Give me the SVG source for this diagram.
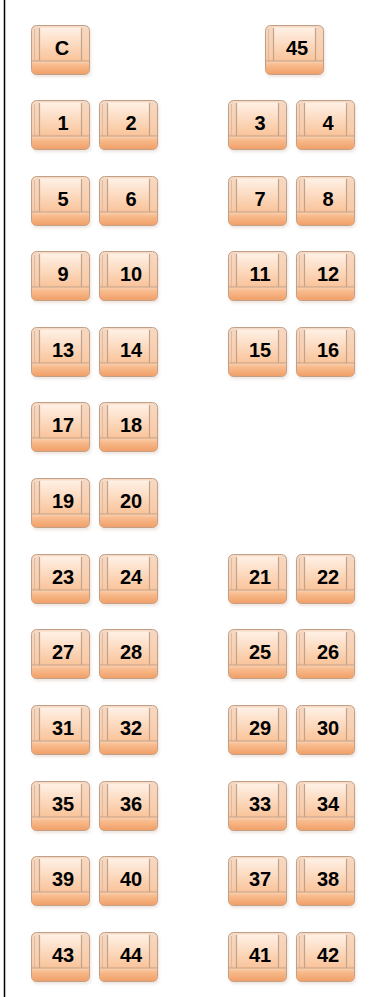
<svg xmlns="http://www.w3.org/2000/svg" xmlns:xlink="http://www.w3.org/1999/xlink" width="378" height="997" viewBox="0 0 378 997">
<style>
.lbl{font-family:"Liberation Sans",Arial,sans-serif;font-weight:bold;font-size:20px;fill:#000;text-anchor:middle}
</style>
<defs>
<linearGradient id="gOuter" x1="0" y1="0" x2="0" y2="1">
<stop offset="0" stop-color="#f5d9c4"/>
<stop offset="0.65" stop-color="#f9cba8"/>
<stop offset="1" stop-color="#f2a673"/>
</linearGradient>
<linearGradient id="gBack" x1="0" y1="0" x2="0" y2="1">
<stop offset="0" stop-color="#fff1e6"/>
<stop offset="1" stop-color="#f9c399"/>
</linearGradient>
<linearGradient id="gCush" x1="0" y1="0" x2="0" y2="1">
<stop offset="0" stop-color="#fbd3b4"/>
<stop offset="0.3" stop-color="#f8bb8d"/>
<stop offset="1" stop-color="#f0a069"/>
</linearGradient>
<filter id="sh" x="-20%" y="-20%" width="140%" height="140%">
<feGaussianBlur stdDeviation="1.5"/>
</filter>
<symbol id="seat" viewBox="0 0 59 50" overflow="visible">
<rect x="1" y="2" width="59" height="50" rx="5" fill="#d8c8bc" opacity="0.5" filter="url(#sh)"/>
<rect x="0.5" y="0.5" width="58" height="49" rx="5" fill="url(#gOuter)" stroke="#c2a088" stroke-width="1"/>
<path d="M3.5 4 L3.5 36" stroke="#d8bca6" stroke-width="1" fill="none"/>
<rect x="8.5" y="2.5" width="42" height="33.5" fill="url(#gBack)"/>
<path d="M8.5 3 L8.5 36 M50.5 3 L50.5 36" stroke="#c4a28a" stroke-width="1.2" fill="none"/>
<path d="M1 36 L58 36 L58 45 Q58 49 54 49 L5 49 Q1 49 1 45 Z" fill="url(#gCush)"/>
<line x1="1" y1="36" x2="58" y2="36" stroke="#c4a28a" stroke-width="1"/>
</symbol>
</defs>
<line x1="4.5" y1="0" x2="4.5" y2="997" stroke="#000" stroke-width="1.5"/>
<g id="seats">
<g id="seat-C"><use xlink:href="#seat" x="31" y="25" width="59" height="50"/><text class="lbl" x="62" y="55">C</text></g>
<g id="seat-45"><use xlink:href="#seat" x="265" y="25" width="59" height="50"/><text class="lbl" x="297" y="55">45</text></g>

<g id="seat-1"><use xlink:href="#seat" x="31" y="100" width="59" height="50"/><text class="lbl" x="63" y="130">1</text></g>
<g id="seat-2"><use xlink:href="#seat" x="99" y="100" width="59" height="50"/><text class="lbl" x="131" y="130">2</text></g>
<g id="seat-3"><use xlink:href="#seat" x="228" y="100" width="59" height="50"/><text class="lbl" x="260" y="130">3</text></g>
<g id="seat-4"><use xlink:href="#seat" x="296" y="100" width="59" height="50"/><text class="lbl" x="328" y="130">4</text></g>

<g id="seat-5"><use xlink:href="#seat" x="31" y="176" width="59" height="50"/><text class="lbl" x="63" y="206">5</text></g>
<g id="seat-6"><use xlink:href="#seat" x="99" y="176" width="59" height="50"/><text class="lbl" x="131" y="206">6</text></g>
<g id="seat-7"><use xlink:href="#seat" x="228" y="176" width="59" height="50"/><text class="lbl" x="260" y="206">7</text></g>
<g id="seat-8"><use xlink:href="#seat" x="296" y="176" width="59" height="50"/><text class="lbl" x="328" y="206">8</text></g>

<g id="seat-9"><use xlink:href="#seat" x="31" y="251" width="59" height="50"/><text class="lbl" x="63" y="281">9</text></g>
<g id="seat-10"><use xlink:href="#seat" x="99" y="251" width="59" height="50"/><text class="lbl" x="131" y="281">10</text></g>
<g id="seat-11"><use xlink:href="#seat" x="228" y="251" width="59" height="50"/><text class="lbl" x="260" y="281">11</text></g>
<g id="seat-12"><use xlink:href="#seat" x="296" y="251" width="59" height="50"/><text class="lbl" x="328" y="281">12</text></g>

<g id="seat-13"><use xlink:href="#seat" x="31" y="327" width="59" height="50"/><text class="lbl" x="63" y="357">13</text></g>
<g id="seat-14"><use xlink:href="#seat" x="99" y="327" width="59" height="50"/><text class="lbl" x="131" y="357">14</text></g>
<g id="seat-15"><use xlink:href="#seat" x="228" y="327" width="59" height="50"/><text class="lbl" x="260" y="357">15</text></g>
<g id="seat-16"><use xlink:href="#seat" x="296" y="327" width="59" height="50"/><text class="lbl" x="328" y="357">16</text></g>

<g id="seat-17"><use xlink:href="#seat" x="31" y="402" width="59" height="50"/><text class="lbl" x="63" y="432">17</text></g>
<g id="seat-18"><use xlink:href="#seat" x="99" y="402" width="59" height="50"/><text class="lbl" x="131" y="432">18</text></g>

<g id="seat-19"><use xlink:href="#seat" x="31" y="478" width="59" height="50"/><text class="lbl" x="63" y="508">19</text></g>
<g id="seat-20"><use xlink:href="#seat" x="99" y="478" width="59" height="50"/><text class="lbl" x="131" y="508">20</text></g>

<g id="seat-23"><use xlink:href="#seat" x="31" y="554" width="59" height="50"/><text class="lbl" x="63" y="584">23</text></g>
<g id="seat-24"><use xlink:href="#seat" x="99" y="554" width="59" height="50"/><text class="lbl" x="131" y="584">24</text></g>
<g id="seat-21"><use xlink:href="#seat" x="228" y="554" width="59" height="50"/><text class="lbl" x="260" y="584">21</text></g>
<g id="seat-22"><use xlink:href="#seat" x="296" y="554" width="59" height="50"/><text class="lbl" x="328" y="584">22</text></g>

<g id="seat-27"><use xlink:href="#seat" x="31" y="629" width="59" height="50"/><text class="lbl" x="63" y="659">27</text></g>
<g id="seat-28"><use xlink:href="#seat" x="99" y="629" width="59" height="50"/><text class="lbl" x="131" y="659">28</text></g>
<g id="seat-25"><use xlink:href="#seat" x="228" y="629" width="59" height="50"/><text class="lbl" x="260" y="659">25</text></g>
<g id="seat-26"><use xlink:href="#seat" x="296" y="629" width="59" height="50"/><text class="lbl" x="328" y="659">26</text></g>

<g id="seat-31"><use xlink:href="#seat" x="31" y="705" width="59" height="50"/><text class="lbl" x="63" y="735">31</text></g>
<g id="seat-32"><use xlink:href="#seat" x="99" y="705" width="59" height="50"/><text class="lbl" x="131" y="735">32</text></g>
<g id="seat-29"><use xlink:href="#seat" x="228" y="705" width="59" height="50"/><text class="lbl" x="260" y="735">29</text></g>
<g id="seat-30"><use xlink:href="#seat" x="296" y="705" width="59" height="50"/><text class="lbl" x="328" y="735">30</text></g>

<g id="seat-35"><use xlink:href="#seat" x="31" y="781" width="59" height="50"/><text class="lbl" x="63" y="811">35</text></g>
<g id="seat-36"><use xlink:href="#seat" x="99" y="781" width="59" height="50"/><text class="lbl" x="131" y="811">36</text></g>
<g id="seat-33"><use xlink:href="#seat" x="228" y="781" width="59" height="50"/><text class="lbl" x="260" y="811">33</text></g>
<g id="seat-34"><use xlink:href="#seat" x="296" y="781" width="59" height="50"/><text class="lbl" x="328" y="811">34</text></g>

<g id="seat-39"><use xlink:href="#seat" x="31" y="856" width="59" height="50"/><text class="lbl" x="63" y="886">39</text></g>
<g id="seat-40"><use xlink:href="#seat" x="99" y="856" width="59" height="50"/><text class="lbl" x="131" y="886">40</text></g>
<g id="seat-37"><use xlink:href="#seat" x="228" y="856" width="59" height="50"/><text class="lbl" x="260" y="886">37</text></g>
<g id="seat-38"><use xlink:href="#seat" x="296" y="856" width="59" height="50"/><text class="lbl" x="328" y="886">38</text></g>

<g id="seat-43"><use xlink:href="#seat" x="31" y="932" width="59" height="50"/><text class="lbl" x="63" y="962">43</text></g>
<g id="seat-44"><use xlink:href="#seat" x="99" y="932" width="59" height="50"/><text class="lbl" x="131" y="962">44</text></g>
<g id="seat-41"><use xlink:href="#seat" x="228" y="932" width="59" height="50"/><text class="lbl" x="260" y="962">41</text></g>
<g id="seat-42"><use xlink:href="#seat" x="296" y="932" width="59" height="50"/><text class="lbl" x="328" y="962">42</text></g>
</g>
</svg>
